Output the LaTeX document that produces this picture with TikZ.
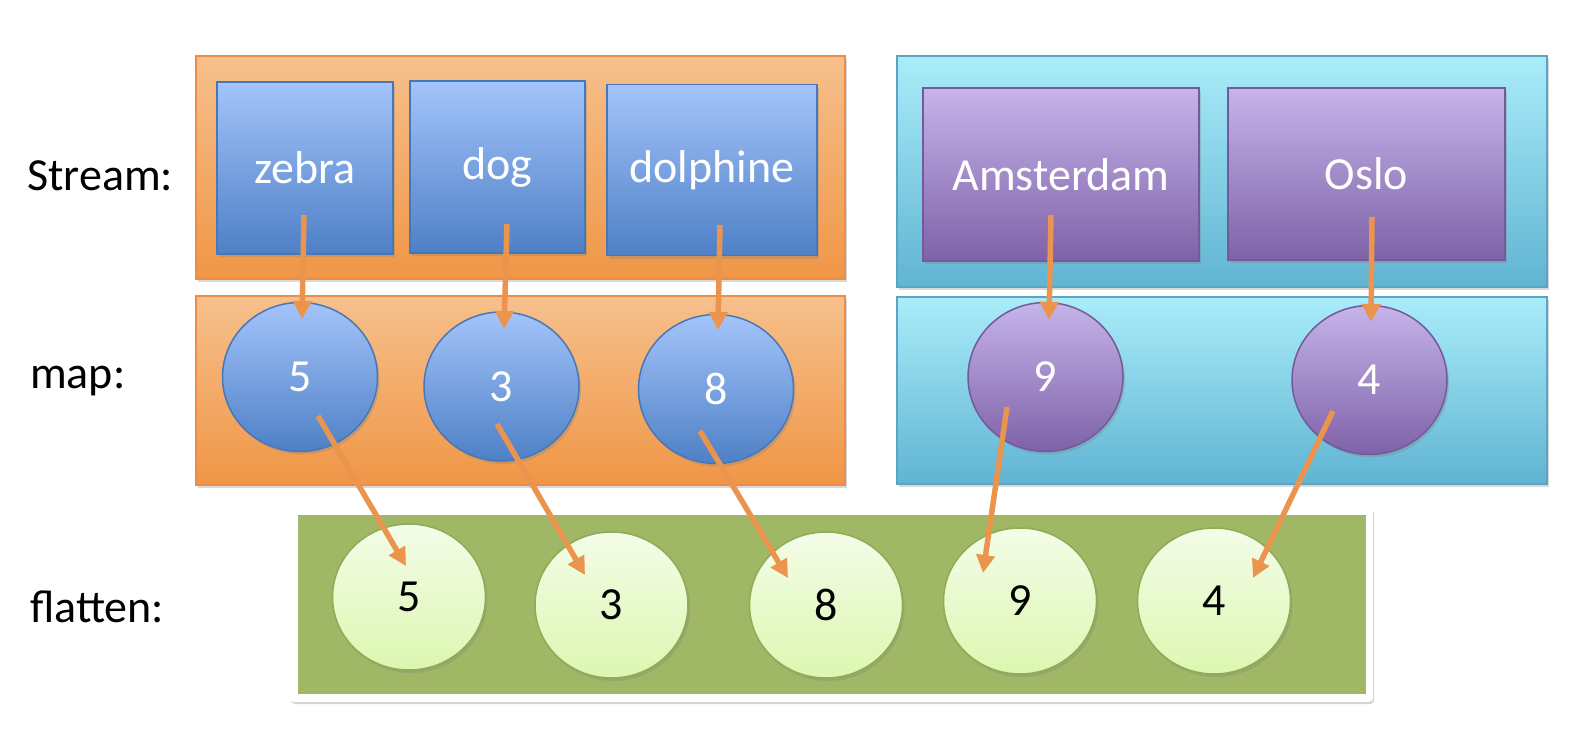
\documentclass[tikz,border=0pt]{standalone}
\usepackage{fontspec}
\setmainfont{Carlito}
\usetikzlibrary{
    arrows.meta,calc,positioning,shapes.geometric,shadows
}

\begin{document}
\begin{tikzpicture}[
  x=1pt, y=-1pt,
  >={Triangle[length=18pt,width=18pt]},
  font=\fontsize{46}{54}\selectfont,
  grp/.style={line width=1.5pt, drop shadow={opacity=0.3, shadow xshift=2pt, shadow yshift=-3pt}},
  ogrp/.style={grp, draw=orangeline, top color=orangetop, bottom color=orangebot},
  cgrp/.style={grp, draw=cyanline, top color=cyantop, bottom color=cyanbot},
  elem/.style={inner sep=0pt, line width=1.5pt, text=white, drop shadow={opacity=0.3, shadow xshift=2pt, shadow yshift=-3pt}},
  bbox/.style={elem, rectangle, draw=blueline, top color=bluetop, bottom color=bluebot},
  pbox/.style={elem, rectangle, draw=purpline, top color=purptop, bottom color=purpbot},
  bball/.style={elem, ellipse, draw=blueline, top color=bluetop, bottom color=bluebot, minimum width=155pt, minimum height=149pt},
  pball/.style={elem, ellipse, draw=purpline, top color=purptop, bottom color=purpbot, minimum width=155pt, minimum height=149pt},
  fball/.style={elem, ellipse, text=black, draw=leafline, top color=leaftop, bottom color=leafbot, minimum width=153pt, minimum height=146pt},
  flow/.style={->, draw=arroworange, line width=5.5pt},
  lbl/.style={anchor=base west, inner sep=0pt}
]
  \definecolor{orangetop}{RGB}{246,192,140}
  \definecolor{orangebot}{RGB}{240,150,70}
  \definecolor{orangeline}{RGB}{236,140,70}
  \definecolor{bluetop}{RGB}{164,196,250}
  \definecolor{bluebot}{RGB}{78,128,198}
  \definecolor{blueline}{RGB}{70,120,185}
  \definecolor{cyantop}{RGB}{170,236,250}
  \definecolor{cyanbot}{RGB}{96,180,210}
  \definecolor{cyanline}{RGB}{90,165,195}
  \definecolor{purptop}{RGB}{198,180,234}
  \definecolor{purpbot}{RGB}{126,98,168}
  \definecolor{purpline}{RGB}{115,90,155}
  \definecolor{greenbg}{RGB}{160,184,102}
  \definecolor{leaftop}{RGB}{244,252,232}
  \definecolor{leafbot}{RGB}{220,247,176}
  \definecolor{leafline}{RGB}{140,172,85}
  \definecolor{arroworange}{RGB}{234,148,78}

  \useasboundingbox (0,0) rectangle (1590,752);

  % row labels
  \node[lbl] (lstream) at (27,190) {Stream:};
  \node[lbl] (lmap) at (30,388) {map:};
  \node[lbl] (lflat) at (30,622) {flatten:};

  % group backgrounds
  \path[ogrp] (196,56) rectangle (845,279);
  \path[ogrp] (196,296) rectangle (845,485);
  \path[cgrp] (897,56) rectangle (1547,287);
  \path[cgrp] (897,297) rectangle (1547,484);
  \path[fill=white, rounded corners=4pt, drop shadow={opacity=0.35, shadow xshift=1pt, shadow yshift=-2pt}]
    (290,507) rectangle (1373,702);
  \fill[greenbg] (298,515) rectangle (1366,694);

  % stream elements
  \node[bbox, minimum width=176pt, minimum height=172pt] (zebra) at (305,168) {zebra};
  \node[bbox, minimum width=175pt, minimum height=172pt] (dog) at (497.5,167) {dog};
  \node[bbox, minimum width=210pt, minimum height=171pt] (dolphine) at (712,170) {dolphine};
  \node[pbox, minimum width=276pt, minimum height=173pt] (amsterdam) at (1061,174.5) {Amsterdam};
  \node[pbox, minimum width=277pt, minimum height=172pt] (oslo) at (1366.5,174) {Oslo};

  % map results
  \node[bball] (m5) at (300,377) {5};
  \node[bball] (m3) at (501.5,386.5) {3};
  \node[bball] (m8) at (716,389) {8};
  \node[pball] (m9) at (1045.5,377) {9};
  \node[pball] (m4) at (1369.5,380) {4};

  % flattened
  \node[fball] (f5) at (409,597) {5};
  \node[fball] (f3) at (611.5,605) {3};
  \node[fball] (f8) at (826,605) {8};
  \node[fball] (f9) at (1020,601) {9};
  \node[fball] (f4) at (1214,601) {4};

  % stream -> map
  \draw[flow] ($(zebra)+(-1,47)$) -- ($(m5)+(2,-58)$);
  \draw[flow] ($(dog)+(9.5,57)$) -- ($(m3)+(2.5,-57.5)$);
  \draw[flow] ($(dolphine)+(8,55)$) -- ($(m8)+(2,-59)$);
  \draw[flow] ($(amsterdam)+(-10,40.5)$) -- ($(m9)+(3.5,-57)$);
  \draw[flow] ($(oslo)+(5.5,43)$) -- ($(m4)+(1.5,-58)$);

  % map -> flatten
  \draw[flow] ($(m5)+(18,39)$) -- ($(f5)+(-3,-31)$);
  \draw[flow] ($(m3)+(-4.5,37.5)$) -- ($(f3)+(-26.5,-30)$);
  \draw[flow] ($(m8)+(-16,42)$) -- ($(f8)+(-38,-27)$);
  \draw[flow] ($(m9)+(-38.5,30)$) -- ($(f9)+(-37,-28)$);
  \draw[flow] ($(m4)+(-36.5,31)$) -- ($(f4)+(39,-23)$);
\end{tikzpicture}
\end{document}
